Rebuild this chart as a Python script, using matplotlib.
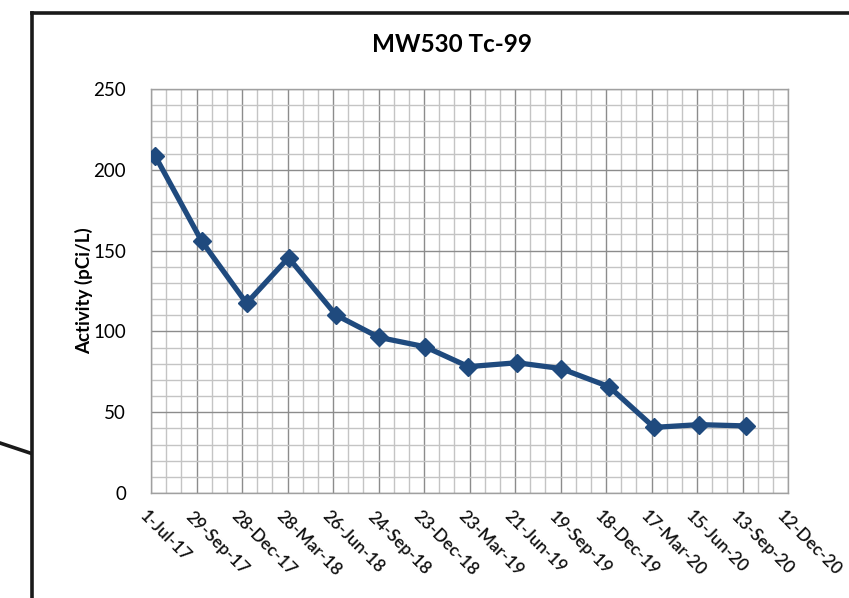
import matplotlib
matplotlib.use("Agg")
import matplotlib.pyplot as plt
from matplotlib.lines import Line2D
from matplotlib.transforms import ScaledTranslation
import numpy as np
import datetime as dt

sample_dates = ["2017-07-09", "2017-10-09", "2018-01-06", "2018-03-30", "2018-07-02",
                "2018-09-25", "2018-12-25", "2019-03-21", "2019-06-25", "2019-09-20",
                "2019-12-24", "2020-03-22", "2020-06-19", "2020-09-20"]
activity = [208.7, 156.0, 117.4, 145.6, 110.1, 96.3, 90.5, 78.2, 80.6, 77.0,
            65.8, 40.6, 42.3, 41.5]
tick_labels = ["1-Jul-17", "29-Sep-17", "28-Dec-17", "28-Mar-18", "26-Jun-18",
               "24-Sep-18", "23-Dec-18", "23-Mar-19", "21-Jun-19", "19-Sep-19",
               "18-Dec-19", "17-Mar-20", "15-Jun-20", "13-Sep-20", "12-Dec-20"]

plt.rcParams['font.family'] = ['Lato', 'DejaVu Sans']

W, H = 849, 598
fig = plt.figure(figsize=(W / 100, H / 100), dpi=100)
ax = fig.add_axes([151 / W, 1 - 493 / H, (788 - 151) / W, (493 - 89) / H])

start = dt.date(2017, 7, 1)
tick_dates = [start + dt.timedelta(days=90 * i) for i in range(len(tick_labels))]
minor_dates = [start + dt.timedelta(days=30 * i) for i in range(3 * (len(tick_labels) - 1) + 1)]
xd = [dt.date.fromisoformat(s) for s in sample_dates]

ax.plot(xd, activity, color='#1F4A7E', lw=3.8, marker='D', markersize=9,
        markeredgecolor='#1F4A7E', zorder=5, solid_joinstyle='round')

ax.set_xlim(tick_dates[0], tick_dates[-1])
ax.set_ylim(0, 250)
ax.set_xticks(tick_dates)
ax.set_xticks(minor_dates, minor=True)
ax.set_xticklabels(tick_labels, rotation=-45, ha='left', va='top',
                   rotation_mode='anchor', fontsize=12.5, fontweight='semibold',
                   color='#111111')
ax.set_yticks(np.arange(0, 251, 50))
ax.set_yticks(np.arange(0, 251, 10), minor=True)
ax.tick_params(axis='y', labelsize=13.5, length=0, pad=18)
ax.tick_params(axis='x', length=0, pad=11)
ax.tick_params(which='minor', length=0)
shift = ScaledTranslation(-3 / 100, 0, fig.dpi_scale_trans)
for lbl in ax.get_xticklabels():
    lbl.set_transform(lbl.get_transform() + shift)

ax.grid(which='major', color='#8c8c8c', lw=1.0)
ax.grid(which='minor', color='#c4c4c4', lw=1.0)
ax.set_axisbelow(True)
for s in ax.spines.values():
    s.set_color('#a0a0a0')
    s.set_linewidth(1.0)

fig.text(452 / W, 1 - 45 / H, "MW530 Tc-99", ha='center', va='center',
         fontsize=17.5, fontweight='bold')
fig.text(84 / W, 1 - 291 / H, "Activity (pCi/L)", ha='center', va='center',
         rotation=90, fontsize=13.5, fontweight='bold')

# outer frame and leader line
fig.add_artist(Line2D([32 / W, 32 / W], [0, 1 - 13 / H], color='#1a1a1a', lw=2.6))
fig.add_artist(Line2D([32 / W, 1.0], [1 - 13 / H, 1 - 13 / H], color='#1a1a1a', lw=2.6))
fig.add_artist(Line2D([0, 30 / W], [1 - 443 / H, 1 - 453 / H], color='#1a1a1a', lw=2.6))

fig.savefig("out.png", dpi=100)
